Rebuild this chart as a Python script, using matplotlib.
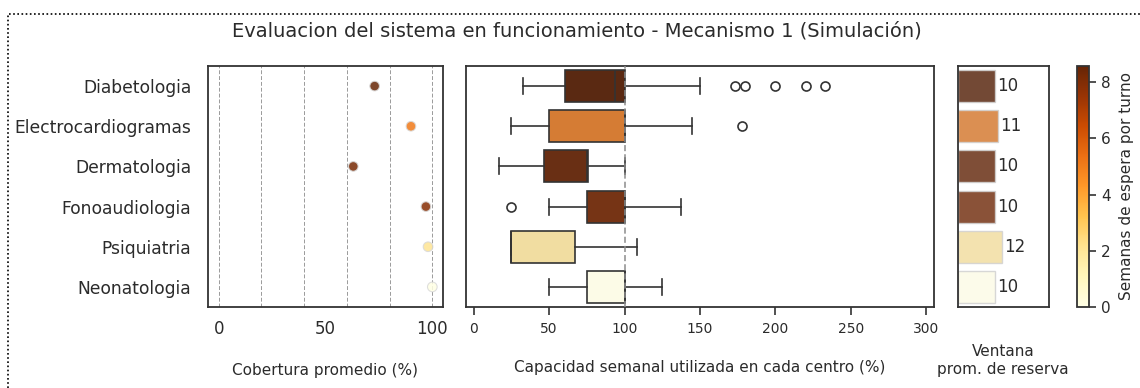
import matplotlib
matplotlib.use("Agg")
import matplotlib.pyplot as plt
import matplotlib.colors as mcolors
import matplotlib.cm as cm
from matplotlib.lines import Line2D
import colorsys

# ---------------- data ----------------
categories = ["Diabetologia", "Electrocardiogramas", "Dermatologia",
              "Fonoaudiologia", "Psiquiatria", "Neonatologia"]
coverage = [73, 90, 63, 97, 98, 100]          # Cobertura promedio (%)
wait_weeks = [8.57, 5.1, 8.2, 7.9, 2.1, 0.05]  # Semanas de espera por turno
q1 = [60.5, 50, 46.5, 75, 25, 75]
median = [94, 100, 75, 100, 25, 100]
q3 = [100, 100, 75.5, 100, 67, 100]
whislo = [33, 25, 17, 50, 25, 50]
whishi = [150, 145, 100, 137.5, 108.5, 125]
fliers = [[173, 179.5, 200, 220, 233], [178], [], [25], [], []]
window = [10, 11, 10, 10, 12, 10]              # Ventana prom. de reserva
title = "Evaluacion del sistema en funcionamiento - Mecanismo 1 (Simulación)"

# ---------------- style ----------------
TXT = "#2b2b2b"
SP = "#333333"
plt.rcParams["font.family"] = ["DejaVu Sans"]
plt.rcParams["text.color"] = TXT
plt.rcParams["axes.labelcolor"] = TXT
plt.rcParams["xtick.color"] = TXT
plt.rcParams["ytick.color"] = TXT

cmap = plt.get_cmap("YlOrBr")
norm = mcolors.Normalize(vmin=0, vmax=8.57)


def desat(c, prop=0.75):
    r, g, b = mcolors.to_rgb(c)
    h, l, s = colorsys.rgb_to_hls(r, g, b)
    return colorsys.hls_to_rgb(h, l, s * prop)


base_cols = [cmap(norm(w)) for w in wait_weeks]
box_cols = [desat(c) for c in base_cols]

fig = plt.figure(figsize=(11.4, 3.88), dpi=100)
W, H = 1140, 388


def pos(x0, x1, y0, y1):
    return [x0 / W, 1 - y1 / H, (x1 - x0) / W, (y1 - y0) / H]


ax1 = fig.add_axes(pos(208, 443, 66, 307))
ax2 = fig.add_axes(pos(466, 934, 66, 307))
ax3 = fig.add_axes(pos(957.5, 1049, 66, 307))
cax = fig.add_axes(pos(1077, 1089, 66, 307))

ypos = list(range(len(categories)))

# ---- panel 1: coverage dots ----
ax1.scatter(coverage, ypos, s=48, c=base_cols, alpha=0.85,
            edgecolors="0.85", linewidths=0.8, zorder=3)
ax1.set_xlim(-5, 105)
ax1.set_ylim(5.5, -0.5)
ax1.set_xticks([0, 50, 100])
for g in [0, 20, 40, 60, 80, 100]:
    ax1.axvline(g, color="#9a9a9a", lw=0.7, ls=(0, (4, 2)), zorder=1)
ax1.set_yticks(ypos)
ax1.set_yticklabels(categories, fontsize=12.3)
ax1.tick_params(axis="both", length=0)
ax1.tick_params(axis="y", pad=12)
ax1.tick_params(axis="x", pad=9, labelsize=12)
ax1.set_xlabel("Cobertura promedio (%)", fontsize=11, labelpad=18)

# ---- panel 2: boxplots ----
stats = []
for i in range(len(categories)):
    stats.append(dict(med=median[i], q1=q1[i], q3=q3[i],
                      whislo=whislo[i], whishi=whishi[i], fliers=fliers[i]))
bp = ax2.bxp(stats, positions=ypos, vert=False, widths=0.8,
             patch_artist=True, showfliers=True,
             boxprops=dict(edgecolor=SP, linewidth=1.2),
             whiskerprops=dict(color=SP, linewidth=1.2),
             capprops=dict(color=SP, linewidth=1.2),
             medianprops=dict(color=SP, linewidth=1.2),
             flierprops=dict(marker="o", markerfacecolor="none",
                             markeredgecolor=SP, markersize=6.5,
                             markeredgewidth=1.2))
for patch, col in zip(bp["boxes"], box_cols):
    patch.set_facecolor(col)
for i, cap in enumerate(bp["caps"]):
    cap.set_ydata([ypos[i // 2] - 0.2, ypos[i // 2] + 0.2])
ax2.axvline(100, color="#8c8c8c", lw=1.1, ls=(0, (4, 2)), zorder=5)
ax2.set_xlim(-5, 305)
ax2.set_ylim(5.5, -0.5)
ax2.set_yticks([])
ax2.set_xticks([0, 50, 100, 150, 200, 250, 300])
ax2.tick_params(axis="x", length=6, width=1.2, color=SP, labelsize=10, pad=5)
ax2.set_xlabel("Capacidad semanal utilizada en cada centro (%)",
               fontsize=11, labelpad=17)

# ---- panel 3: reservation window bars ----
bars = ax3.barh(ypos, window, height=0.8, color=box_cols, alpha=0.85,
                edgecolor="0.82", linewidth=1.0)
for y, v in zip(ypos, window):
    ax3.text(v + 0.6, y, f"{v}", va="center", ha="left", fontsize=12,
             color=TXT)
ax3.set_xlim(0, 24.7)
ax3.set_ylim(5.5, -0.5)
ax3.set_xticks([])
ax3.set_yticks([])
ax3.set_xlabel("Ventana\nprom. de reserva", fontsize=11, labelpad=27)

for ax in (ax1, ax2, ax3):
    for s in ax.spines.values():
        s.set_color(SP)
        s.set_linewidth(1.3)

# ---- colorbar ----
sm = cm.ScalarMappable(norm=norm, cmap=cmap)
cb = fig.colorbar(sm, cax=cax)
cb.set_ticks([0, 2, 4, 6, 8])
cb.ax.tick_params(labelsize=11, length=5, width=1.2, color=SP)
cb.outline.set_edgecolor(SP)
cb.outline.set_linewidth(1.3)
cb.set_label("Semanas de espera por turno", fontsize=11, labelpad=6)

fig.text(577 / W, 1 - 31 / H, title, ha="center", va="center", fontsize=14,
         color=TXT)

# dotted notebook-style frame
fig.add_artist(Line2D([8 / W, 8 / W, 1.0], [0.0, 1 - 14 / H, 1 - 14 / H],
                      transform=fig.transFigure, color="black", lw=1.2,
                      ls=(0, (1, 1.5))))

fig.savefig("out.png", dpi=100)
